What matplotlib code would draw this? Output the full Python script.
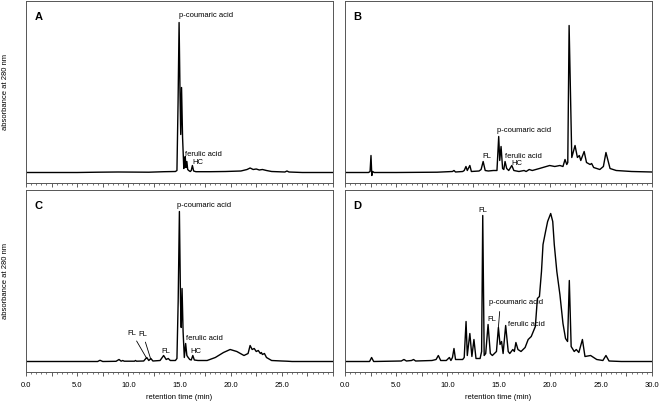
import matplotlib
matplotlib.use("Agg")
import matplotlib.pyplot as plt
from matplotlib.ticker import MultipleLocator

plt.rcParams['font.family'] = ['Liberation Sans', 'DejaVu Sans']

# chromatogram traces (time in min, height in arbitrary units)
t_a = [0, 5.0, 7.0, 9.0, 12.0, 13.5, 14.6, 14.75, 14.86, 14.96, 15.05, 15.12, 15.2, 15.3,
       15.42, 15.5, 15.56, 15.63, 15.72, 15.8, 15.9, 16.05, 16.15, 16.26, 16.38, 16.6,
       18.0, 19.5, 21.0, 21.6, 21.9, 22.2, 22.5, 22.8, 23.1, 23.5, 24.0, 25.3, 25.5, 25.7,
       27.0, 30.0]
h_a = [0, 0, 0.3, 0.5, 0.3, 0.8, 1, 2, 70, 150, 80, 38, 85, 35,
       4, 8, 16, 5, 11, 3, 2, 1, 2, 7, 1.5, 0.8,
       0.8, 1.0, 1.5, 3, 4.5, 3, 3.5, 2.5, 3, 2, 1, 0.5, 1.5, 0.5,
       0, 0]

t_b = [0, 2.3, 2.45, 2.54, 2.62, 2.7, 2.85, 5.0, 9.0, 10.5, 10.65, 10.8, 11.5, 11.65,
       11.82, 11.95, 12.2, 12.35, 13.1, 13.3, 13.5, 13.7, 14.0, 14.5, 14.85, 15.02,
       15.12, 15.25, 15.4, 15.52, 15.64, 15.8, 16.0, 16.3, 16.5, 17.0, 17.5, 17.7,
       18.0, 18.3, 19.0, 20.0, 20.5, 21.0, 21.3, 21.5, 21.67, 21.77, 21.9, 22.16,
       22.48, 22.71, 22.9, 23.04, 23.37, 23.6, 23.95, 24.1, 24.3, 24.6, 24.9, 25.25,
       25.5, 25.9, 26.5, 28.0, 30.0]
h_b = [0, 0, 1, 17, -3, 1, 0, 0, 0.3, 1, 2, 0.5, 1, 2,
       6, 2, 7, 1, 1.5, 3, 11, 2, 1.5, 2, 2, 36,
       12, 26, 4, 3, 11, 4, 2, 7, 2, 1, 2, 1,
       3, 2, 4, 7, 6, 7, 6, 13, 8, 10, 147, 15,
       27, 15, 17, 12, 21, 10, 8, 9, 5, 4, 3, 6,
       20, 4, 2, 1, 0.5]

t_c = [0, 5.0, 7.0, 7.23, 7.5, 8.8, 9.09, 9.3, 9.45, 9.6, 10.6, 10.7, 10.8, 11.5, 11.8,
       12.0, 12.2, 12.4, 13.1, 13.45, 13.7, 13.9, 14.1, 14.6, 14.75, 14.87, 14.99,
       15.1, 15.17, 15.25, 15.35, 15.47, 15.6, 15.72, 15.85, 16.0, 16.15, 16.3, 16.45,
       16.8, 17.7, 18.5, 19.3, 19.95, 20.6, 21.3, 21.7, 21.9, 22.1, 22.3, 22.5, 22.7,
       22.9, 23.0, 23.1, 23.3, 23.5, 24.0, 25.0, 25.5, 26.0, 30.0]
h_c = [0, 0, 0, 1.2, 0, 0.2, 2, 0.3, 1, 0.3, 0.3, 1, 0.3, 0.5, 4,
       1, 3, 0.5, 1, 6, 2, 3, 1, 1, 3, 60, 150,
       60, 34, 73, 30, 4, 18, 6, 4, 2, 1.5, 6, 1.5,
       1, 1, 4, 9, 12, 10, 6, 8, 16, 12, 13, 10, 11,
       8, 9, 7, 8, 4, 1, 0.5, 0.3, 0, 0]

t_d = [0, 2.4, 2.6, 2.8, 5.5, 5.76, 6.0, 6.5, 6.7, 6.9, 8.5, 8.9, 9.12, 9.35, 9.9,
       10.2, 10.35, 10.5, 10.65, 10.8, 11.5, 11.65, 11.83, 11.95, 12.2, 12.4, 12.6,
       12.8, 13.2, 13.35, 13.46, 13.6, 13.75, 13.98, 14.2, 14.4, 14.6, 14.8, 14.99,
       15.15, 15.3, 15.45, 15.7, 15.95, 16.1, 16.4, 16.55, 16.7, 16.9, 17.2, 17.6,
       17.9, 18.2, 18.6, 18.8, 19.0, 19.2, 19.35, 19.6, 19.8, 20.1, 20.3, 20.45,
       20.7, 21.0, 21.3, 21.55, 21.75, 21.92, 22.1, 22.4, 22.6, 22.85, 23.2, 23.45,
       24.0, 24.6, 25.2, 25.5, 25.8, 27.0, 30.0]
h_d = [0, 0, 4, 0, 0.5, 2, 0.5, 1, 2, 0.5, 1, 2, 6, 1, 1,
       4, 1, 4, 13, 2, 2, 4, 40, 6, 28, 5, 22,
       3, 3, 10, 146, 6, 8, 37, 8, 6, 8, 10, 34,
       17, 20, 8, 36, 10, 8, 12, 10, 19, 12, 10, 14,
       22, 25, 35, 63, 65, 90, 117, 130, 140, 148, 140, 117,
       90, 67, 38, 23, 20, 81, 15, 10, 12, 9, 22, 5,
       6, 2, 1, 6, 0.5, 0, 0]

panels = [
    ("A", t_a, h_a, [26, 1]),
    ("B", t_b, h_b, [345, 1]),
    ("C", t_c, h_c, [26, 190]),
    ("D", t_d, h_d, [345, 190]),
]

W, H = 662, 403
fig = plt.figure(figsize=(W / 100, H / 100), dpi=100)
axes = {}
for name, t, h, (px, py) in panels:
    ax = fig.add_axes([px / W, (H - py - 182) / H, 307 / W, 182 / H])
    ax.plot(t, h, color="black", lw=1.0)
    ax.set_xlim(0, 30)
    ax.set_ylim(-10.5, 171.5)
    ax.set_yticks([])
    ax.xaxis.set_major_locator(MultipleLocator(2.5))
    ax.xaxis.set_minor_locator(MultipleLocator(0.5))
    ax.tick_params(axis="x", which="major", direction="out", length=3, width=0.6,
                   color="#444444", labelsize=5.5, pad=4)
    ax.tick_params(axis="x", which="minor", direction="out", length=1.6, width=0.5,
                   color="#444444")
    for s in ax.spines.values():
        s.set_color("#555555")
        s.set_linewidth(0.7)
    ax.text(0.028, 0.91, name, transform=ax.transAxes, fontsize=8, fontweight="bold",
            va="center", ha="left")
    axes[name] = ax

# tick labels only on the bottom row, every 5 min
for name in ("A", "B"):
    axes[name].tick_params(axis="x", which="major", labelbottom=False)
for name, last in (("C", 25.0), ("D", 30.0)):
    ticks = [x * 2.5 for x in range(13)]
    axes[name].set_xticks(ticks)
    axes[name].set_xticklabels(["%.1f" % v if (v % 5 == 0 and v <= last) else "" for v in ticks])
    axes[name].set_xlabel("retention time (min)", fontsize=5.5, labelpad=3.5)

fs = 5.5
ax = axes["A"]
ax.text(14.95, 157, "p-coumaric acid", fontsize=fs, va="center")
ax.text(15.55, 18, "ferulic acid", fontsize=fs, va="center")
ax.text(16.25, 10, "HC", fontsize=fs, va="center")

ax = axes["B"]
ax.text(13.45, 16, "FL", fontsize=fs, va="center")
ax.text(14.9, 42, "p-coumaric acid", fontsize=fs, va="center")
ax.text(15.6, 16, "ferulic acid", fontsize=fs, va="center")
ax.text(16.3, 9, "HC", fontsize=fs, va="center")

ax = axes["C"]
ax.text(14.8, 156, "p-coumaric acid", fontsize=fs, va="center")
ax.text(15.6, 23, "ferulic acid", fontsize=fs, va="center")
ax.text(16.1, 10, "HC", fontsize=fs, va="center")
ax.text(13.2, 10, "FL", fontsize=fs, va="center")
ax.annotate("FL", xy=(11.8, 3), xytext=(9.95, 28), fontsize=fs, va="center",
            arrowprops=dict(arrowstyle="-", lw=0.6, shrinkA=1, shrinkB=0))
ax.annotate("FL", xy=(12.2, 2), xytext=(11.0, 27), fontsize=fs, va="center",
            arrowprops=dict(arrowstyle="-", lw=0.6, shrinkA=1, shrinkB=0))

ax = axes["D"]
ax.text(13.5, 151, "FL", fontsize=fs, va="center", ha="center")
ax.text(13.9, 42, "FL", fontsize=fs, va="center")
ax.annotate("p-coumaric acid", xy=(14.99, 34), xytext=(14.1, 59), fontsize=fs,
            va="center", arrowprops=dict(arrowstyle="-", lw=0.6, shrinkA=2, shrinkB=0,
                                         relpos=(0.2, 0)))
ax.text(15.9, 37, "ferulic acid", fontsize=fs, va="center")

for yc in (92, 281):
    fig.text(6 / W, 1 - yc / H, "absorbance at 280 nm", rotation=90, fontsize=5.5,
             va="center", ha="center")

fig.savefig("out.png", dpi=100)
